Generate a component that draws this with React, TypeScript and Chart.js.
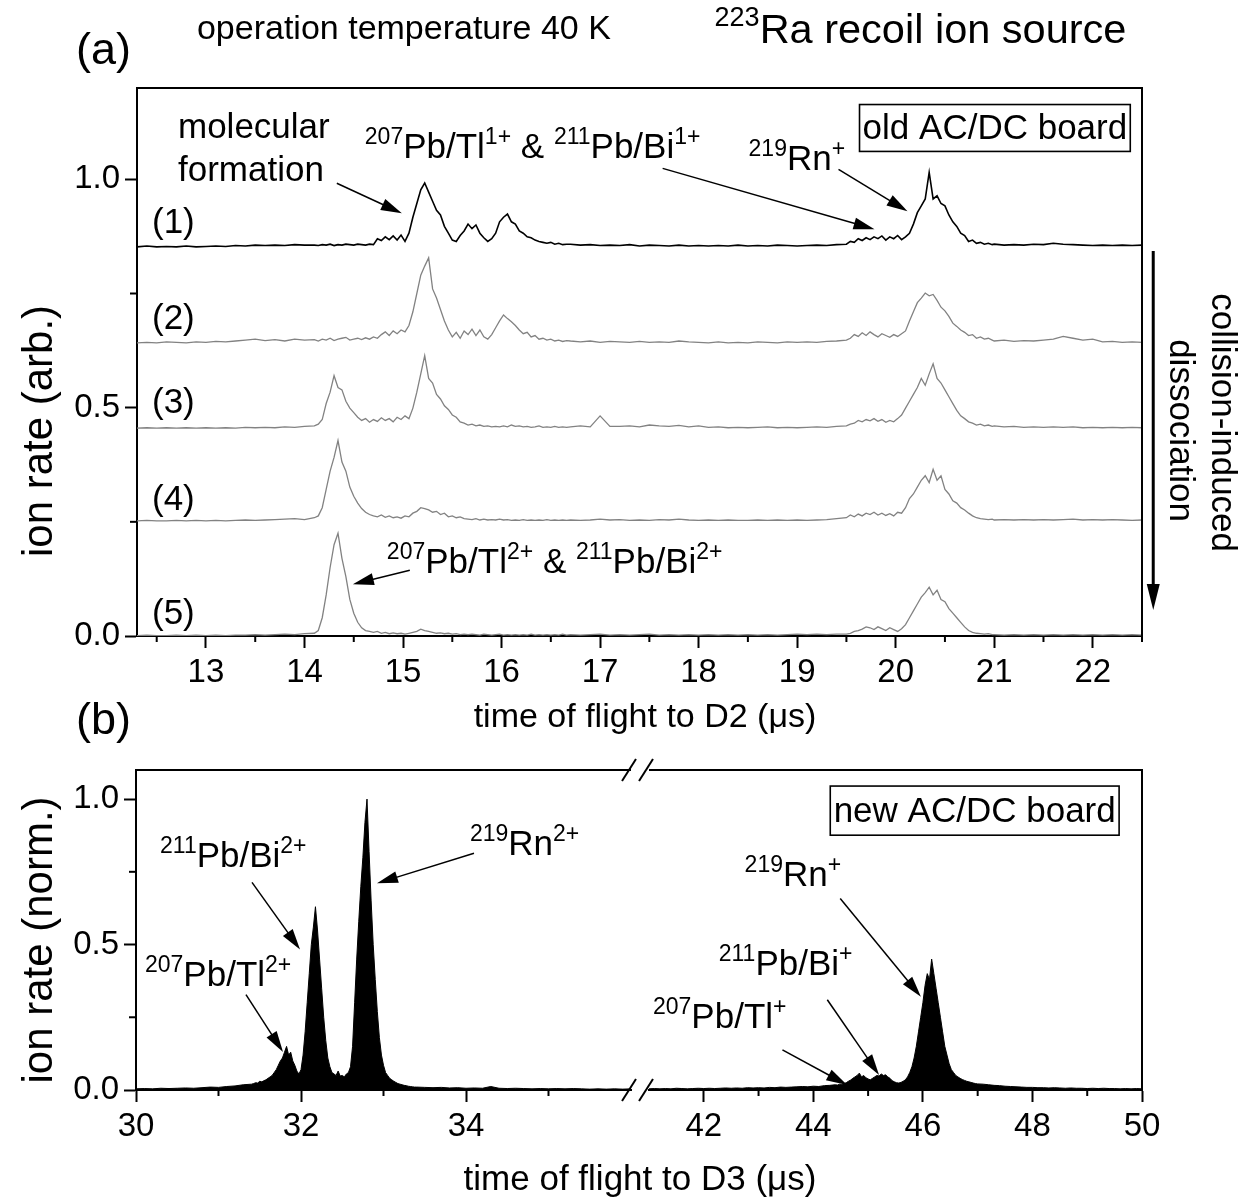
import React, { useEffect, useRef } from "react";
import { Chart, registerables } from "chart.js";
Chart.register(...registerables);

const FONT = '"Liberation Sans", Arial, Helvetica, sans-serif';

// ---------------- panel (a): time of flight to D2 (µs) ----------------
const tofD2 = [
  12.3, 12.4, 12.5, 12.6, 12.7, 12.8, 12.9, 13.0, 13.1, 13.2, 13.3, 13.4, 13.5, 13.6, 13.7, 13.8, 13.9, 14.0,
  14.10, 14.14, 14.18, 14.22, 14.26, 14.30, 14.34, 14.38, 14.42, 14.46,
  14.50, 14.54, 14.58, 14.62, 14.66, 14.70, 14.74, 14.78, 14.82, 14.86,
  14.90, 14.94, 14.98, 15.02, 15.06, 15.10, 15.14, 15.18, 15.22, 15.26,
  15.30, 15.34, 15.38, 15.42, 15.46, 15.50, 15.54, 15.58, 15.62, 15.66,
  15.70, 15.74, 15.78, 15.82, 15.86, 15.90, 15.94, 15.98, 16.02, 16.06,
  16.10, 16.14, 16.18, 16.22, 16.26, 16.30, 16.34, 16.38, 16.42, 16.46,
  16.50, 16.54, 16.58, 16.62, 16.66,
  16.7, 16.8, 16.9, 17.0, 17.1, 17.2, 17.3, 17.4, 17.5, 17.6,
  17.7, 17.8, 17.9, 18.0, 18.1, 18.2, 18.3, 18.4, 18.5, 18.6,
  18.7, 18.8, 18.9, 19.0, 19.1, 19.2, 19.3, 19.4,
  19.50, 19.54, 19.58, 19.62, 19.66, 19.70, 19.74, 19.78, 19.82, 19.86,
  19.90, 19.94, 19.98, 20.02, 20.06, 20.10, 20.14, 20.18, 20.22, 20.26,
  20.30, 20.34, 20.38, 20.42, 20.46, 20.50, 20.54, 20.58, 20.62, 20.66,
  20.70, 20.74, 20.78, 20.82, 20.86, 20.90, 20.94, 20.98,
  21.0, 21.1, 21.2, 21.3, 21.4, 21.5, 21.6, 21.7, 21.8, 21.9, 22.0, 22.1, 22.2, 22.3, 22.4, 22.5,
];

// spectrum (1), old AC/DC board (values above its own baseline)
const rate1 = [
  0.000, 0.002, 0.000, 0.001, 0.000, 0.002, 0.000, 0.001, 0.002, 0.001, 0.003, 0.002, 0.004, 0.003, 0.004, 0.003, 0.005, 0.004,
  0.004, 0.003, 0.005, 0.004, 0.006, 0.003, 0.005, 0.004, 0.006, 0.005,
  0.004, 0.006, 0.005, 0.004, 0.006, 0.005, 0.018, 0.014, 0.022, 0.016,
  0.024, 0.015, 0.026, 0.012, 0.030, 0.065, 0.095, 0.125, 0.140, 0.120,
  0.100, 0.080, 0.070, 0.045, 0.030, 0.015, 0.012, 0.025, 0.035, 0.050,
  0.040, 0.048, 0.030, 0.020, 0.012, 0.018, 0.030, 0.055, 0.065, 0.072,
  0.055, 0.050, 0.035, 0.030, 0.022, 0.020, 0.015, 0.012, 0.010, 0.008,
  0.010, 0.006, 0.008, 0.005, 0.006,
  0.006, 0.004, 0.005, 0.003, 0.004, 0.003, 0.005, 0.002, 0.004, 0.003,
  0.002, 0.004, 0.002, 0.003, 0.002, 0.003, 0.002, 0.004, 0.002, 0.003,
  0.002, 0.004, 0.003, 0.002, 0.003, 0.004, 0.003, 0.005,
  0.006, 0.012, 0.010, 0.018, 0.014, 0.020, 0.016, 0.022, 0.018, 0.024,
  0.015, 0.022, 0.018, 0.025, 0.016, 0.022, 0.030, 0.050, 0.075, 0.090,
  0.105, 0.163, 0.105, 0.112, 0.095, 0.090, 0.070, 0.055, 0.045, 0.030,
  0.025, 0.012, 0.015, 0.008, 0.010, 0.006, 0.008, 0.005,
  0.006, 0.004, 0.005, 0.004, 0.006, 0.005, 0.008, 0.006, 0.005, 0.004, 0.003, 0.004, 0.003, 0.004, 0.003, 0.004,
];

const rate2 = [
  0.002, 0.003, 0.002, 0.004, 0.003, 0.002, 0.004, 0.003, 0.005, 0.004, 0.006, 0.008, 0.010, 0.007, 0.009, 0.006, 0.010, 0.008,
  0.009, 0.006, 0.010, 0.008, 0.012, 0.007, 0.010, 0.012, 0.014, 0.008,
  0.010, 0.012, 0.009, 0.013, 0.010, 0.015, 0.012, 0.020, 0.026, 0.018,
  0.028, 0.022, 0.030, 0.026, 0.040, 0.070, 0.110, 0.150, 0.170, 0.188,
  0.120, 0.100, 0.075, 0.050, 0.030, 0.015, 0.025, 0.012, 0.028, 0.020,
  0.032, 0.018, 0.030, 0.015, 0.010, 0.020, 0.035, 0.050, 0.063, 0.055,
  0.048, 0.040, 0.030, 0.022, 0.025, 0.015, 0.018, 0.010, 0.012, 0.008,
  0.010, 0.006, 0.008, 0.005, 0.007,
  0.006, 0.004, 0.006, 0.003, 0.005, 0.004, 0.003, 0.005, 0.003, 0.004,
  0.003, 0.006, 0.004, 0.003, 0.002, 0.004, 0.002, 0.003, 0.002, 0.004,
  0.003, 0.002, 0.004, 0.003, 0.004, 0.003, 0.005, 0.006,
  0.008, 0.012, 0.020, 0.016, 0.024, 0.018, 0.026, 0.020, 0.015, 0.022,
  0.018, 0.014, 0.020, 0.016, 0.022, 0.028, 0.050, 0.070, 0.090, 0.100,
  0.111, 0.105, 0.108, 0.095, 0.080, 0.072, 0.060, 0.045, 0.038, 0.030,
  0.025, 0.018, 0.020, 0.012, 0.015, 0.010, 0.012, 0.008,
  0.006, 0.008, 0.005, 0.007, 0.006, 0.008, 0.010, 0.016, 0.012, 0.008, 0.010, 0.004, 0.005, 0.003, 0.004, 0.003,
];

const rate3 = [
  0.001, 0.002, 0.001, 0.002, 0.001, 0.002, 0.001, 0.002, 0.001, 0.002, 0.001, 0.003, 0.002, 0.003, 0.002, 0.004, 0.003, 0.005,
  0.006, 0.010, 0.020, 0.055, 0.080, 0.116, 0.090, 0.085, 0.060, 0.045,
  0.035, 0.025, 0.018, 0.022, 0.014, 0.020, 0.016, 0.024, 0.018, 0.022,
  0.015, 0.025, 0.020, 0.028, 0.022, 0.045, 0.080, 0.120, 0.160, 0.110,
  0.100, 0.075, 0.065, 0.050, 0.042, 0.030, 0.025, 0.015, 0.012, 0.008,
  0.010, 0.006, 0.008, 0.005, 0.006, 0.004, 0.005, 0.004, 0.006, 0.004,
  0.008, 0.005, 0.006, 0.004, 0.005, 0.003, 0.004, 0.006, 0.003, 0.004,
  0.003, 0.005, 0.003, 0.004, 0.003,
  0.004, 0.006, 0.004, 0.028, 0.005, 0.005, 0.006, 0.004, 0.008, 0.006,
  0.005, 0.007, 0.004, 0.006, 0.003, 0.004, 0.002, 0.003, 0.002, 0.003,
  0.004, 0.002, 0.003, 0.002, 0.003, 0.004, 0.003, 0.005,
  0.006, 0.010, 0.012, 0.018, 0.015, 0.020, 0.017, 0.022, 0.016, 0.020,
  0.014, 0.018, 0.015, 0.022, 0.030, 0.045, 0.060, 0.075, 0.090, 0.110,
  0.095, 0.120, 0.142, 0.110, 0.100, 0.085, 0.070, 0.055, 0.040, 0.028,
  0.022, 0.015, 0.012, 0.008, 0.010, 0.006, 0.008, 0.005,
  0.006, 0.004, 0.005, 0.003, 0.004, 0.003, 0.004, 0.003, 0.004, 0.002, 0.003, 0.002, 0.003, 0.002, 0.003, 0.002,
];

const rate4 = [
  0.001, 0.002, 0.001, 0.001, 0.002, 0.001, 0.002, 0.001, 0.002, 0.001, 0.002, 0.003, 0.002, 0.003, 0.004, 0.005, 0.006, 0.004,
  0.008, 0.012, 0.030, 0.070, 0.110, 0.140, 0.177, 0.130, 0.110, 0.075,
  0.055, 0.040, 0.028, 0.020, 0.015, 0.012, 0.010, 0.014, 0.009, 0.012,
  0.008, 0.010, 0.007, 0.012, 0.010, 0.018, 0.022, 0.030, 0.028, 0.025,
  0.020, 0.022, 0.015, 0.018, 0.010, 0.012, 0.008, 0.010, 0.006, 0.005,
  0.004, 0.006, 0.003, 0.005, 0.003, 0.004, 0.003, 0.005, 0.003, 0.004,
  0.002, 0.003, 0.002, 0.004, 0.002, 0.003, 0.002, 0.003, 0.002, 0.004,
  0.002, 0.003, 0.002, 0.003, 0.002,
  0.003, 0.002, 0.003, 0.005, 0.003, 0.004, 0.002, 0.003, 0.002, 0.004,
  0.003, 0.005, 0.003, 0.002, 0.003, 0.002, 0.003, 0.002, 0.002, 0.003,
  0.002, 0.003, 0.002, 0.003, 0.002, 0.003, 0.004, 0.006,
  0.008, 0.014, 0.010, 0.016, 0.012, 0.018, 0.015, 0.020, 0.014, 0.018,
  0.013, 0.017, 0.012, 0.020, 0.018, 0.030, 0.050, 0.060, 0.075, 0.090,
  0.100, 0.085, 0.114, 0.090, 0.100, 0.070, 0.060, 0.045, 0.040, 0.030,
  0.025, 0.018, 0.012, 0.008, 0.006, 0.005, 0.004, 0.005,
  0.003, 0.004, 0.003, 0.004, 0.003, 0.004, 0.003, 0.004, 0.005, 0.003, 0.004, 0.003, 0.004, 0.003, 0.002, 0.003,
];

const rate5 = [
  0.001, 0.002, 0.001, 0.001, 0.002, 0.001, 0.002, 0.001, 0.002, 0.001, 0.002, 0.002, 0.003, 0.002, 0.003, 0.004, 0.003, 0.005,
  0.006, 0.012, 0.040, 0.090, 0.150, 0.200, 0.225, 0.170, 0.130, 0.080,
  0.050, 0.030, 0.018, 0.012, 0.010, 0.008, 0.010, 0.006, 0.008, 0.005,
  0.007, 0.005, 0.006, 0.004, 0.006, 0.008, 0.010, 0.015, 0.012, 0.010,
  0.008, 0.006, 0.007, 0.005, 0.006, 0.004, 0.005, 0.003, 0.004, 0.003,
  0.004, 0.003, 0.002, 0.004, 0.003, 0.002, 0.003, 0.004, 0.002, 0.003,
  0.002, 0.003, 0.002, 0.003, 0.002, 0.004, 0.002, 0.003, 0.002, 0.003,
  0.002, 0.003, 0.002, 0.004, 0.002,
  0.003, 0.002, 0.003, 0.004, 0.002, 0.003, 0.002, 0.003, 0.004, 0.002,
  0.003, 0.002, 0.003, 0.002, 0.003, 0.002, 0.003, 0.002, 0.003, 0.002,
  0.003, 0.002, 0.003, 0.004, 0.003, 0.004, 0.003, 0.004,
  0.004, 0.006, 0.010, 0.012, 0.015, 0.020, 0.018, 0.014, 0.020, 0.016,
  0.012, 0.018, 0.014, 0.010, 0.016, 0.025, 0.040, 0.055, 0.070, 0.085,
  0.095, 0.107, 0.090, 0.100, 0.080, 0.075, 0.060, 0.050, 0.040, 0.030,
  0.020, 0.012, 0.008, 0.006, 0.005, 0.004, 0.005, 0.003,
  0.003, 0.002, 0.003, 0.002, 0.003, 0.002, 0.003, 0.002, 0.003, 0.002, 0.003, 0.002, 0.003, 0.002, 0.003, 0.002,
];

const spectraD2 = [rate1, rate2, rate3, rate4, rate5];
const traceOffsets = [0.852, 0.64, 0.454, 0.251, 0.0];
const traceLabels = ["(1)", "(2)", "(3)", "(4)", "(5)"];
const traceColors = ["#000000", "#828282", "#828282", "#828282", "#828282"];

const xTicksD2 = [13, 14, 15, 16, 17, 18, 19, 20, 21, 22];
const xMinorD2 = [12.5, 13.5, 14.5, 15.5, 16.5, 17.5, 18.5, 19.5, 20.5, 21.5, 22.5];
const yTicksA = [0, 0.5, 1.0];
const yMinorA = [0.25, 0.75];

// ---------------- panel (b): time of flight to D3 (µs), broken axis ----------------
const tofD3Left = [
  30.0, 30.1, 30.2, 30.3, 30.4, 30.5, 30.6, 30.7, 30.8, 30.9, 31.0, 31.1, 31.2, 31.3,
  31.400, 31.425, 31.450, 31.475, 31.500, 31.525, 31.550, 31.575, 31.600, 31.625,
  31.650, 31.675, 31.700, 31.725, 31.750, 31.775, 31.800, 31.825, 31.850, 31.875,
  31.900, 31.925, 31.950, 31.975, 32.000, 32.025, 32.050, 32.075, 32.100, 32.125,
  32.150, 32.175, 32.200, 32.225, 32.250, 32.275, 32.300, 32.325, 32.350, 32.375,
  32.400, 32.425, 32.450, 32.475, 32.500, 32.525, 32.550, 32.575, 32.600, 32.625,
  32.650, 32.675, 32.700, 32.725, 32.750, 32.775, 32.800, 32.825, 32.850, 32.875,
  32.900, 32.925, 32.950, 32.975, 33.000, 33.025, 33.050, 33.075, 33.100, 33.125,
  33.150, 33.175, 33.200, 33.225, 33.250, 33.275, 33.300, 33.325, 33.350, 33.375,
  33.4, 33.5, 33.6, 33.7, 33.8, 33.9, 34.0, 34.1, 34.2, 34.3, 34.4, 34.5, 34.6, 34.7,
  34.8, 34.9, 35.0, 35.1, 35.2, 35.3, 35.4, 35.5, 35.6, 35.7, 35.8, 35.9, 36.0,
];
const rateD3Left = [
  0.004, 0.005, 0.004, 0.006, 0.005, 0.006, 0.007, 0.006, 0.008, 0.010, 0.009, 0.012, 0.014, 0.018,
  0.020, 0.022, 0.025, 0.024, 0.030, 0.028, 0.032, 0.035, 0.040, 0.045,
  0.050, 0.060, 0.070, 0.085, 0.100, 0.110, 0.130, 0.150, 0.120, 0.130,
  0.100, 0.085, 0.065, 0.055, 0.070, 0.120, 0.200, 0.300, 0.400, 0.500,
  0.560, 0.630, 0.550, 0.450, 0.350, 0.250, 0.170, 0.110, 0.080, 0.060,
  0.055, 0.050, 0.065, 0.048, 0.050, 0.045, 0.055, 0.060, 0.080, 0.150,
  0.300, 0.450, 0.580, 0.700, 0.800, 0.920, 1.000, 0.820, 0.650, 0.500,
  0.380, 0.270, 0.180, 0.120, 0.085, 0.060, 0.050, 0.040, 0.035, 0.030,
  0.026, 0.022, 0.020, 0.018, 0.016, 0.015, 0.013, 0.012, 0.011, 0.010,
  0.010, 0.009, 0.008, 0.009, 0.007, 0.008, 0.006, 0.007, 0.006, 0.012, 0.006, 0.005, 0.006, 0.005,
  0.004, 0.005, 0.004, 0.005, 0.004, 0.005, 0.004, 0.003, 0.004, 0.003, 0.004, 0.003, 0.004,
];

const tofD3Right = [
  41.0, 41.1, 41.2, 41.3, 41.4, 41.5, 41.6, 41.7, 41.8, 41.9,
  42.0, 42.1, 42.2, 42.3, 42.4, 42.5, 42.6, 42.7, 42.8, 42.9,
  43.0, 43.1, 43.2, 43.3, 43.4, 43.5, 43.6, 43.7, 43.8, 43.9,
  44.0, 44.1, 44.2, 44.3,
  44.40, 44.44, 44.48, 44.52, 44.56, 44.60, 44.64, 44.68, 44.72, 44.76,
  44.80, 44.84, 44.88, 44.92, 44.96, 45.00, 45.04, 45.08, 45.12, 45.16,
  45.20, 45.24, 45.28, 45.32, 45.36, 45.40, 45.44, 45.48, 45.52, 45.56,
  45.60, 45.64, 45.68, 45.72, 45.76, 45.80, 45.84, 45.88, 45.92, 45.96,
  46.00, 46.04, 46.08, 46.12, 46.16, 46.20, 46.24, 46.28, 46.32, 46.36,
  46.40, 46.44, 46.48, 46.52, 46.56, 46.60, 46.64, 46.68, 46.72, 46.76,
  46.80, 46.84, 46.88, 46.92, 46.96,
  47.0, 47.1, 47.2, 47.3, 47.4, 47.5, 47.6, 47.7, 47.8, 47.9,
  48.0, 48.1, 48.2, 48.3, 48.4, 48.5, 48.6, 48.7, 48.8, 48.9,
  49.0, 49.1, 49.2, 49.3, 49.4, 49.5, 49.6, 49.7, 49.8, 49.9, 50.0,
];
const rateD3Right = [
  0.004, 0.005, 0.004, 0.005, 0.004, 0.006, 0.005, 0.004, 0.005, 0.006,
  0.005, 0.006, 0.005, 0.006, 0.007, 0.006, 0.007, 0.006, 0.008, 0.007,
  0.008, 0.007, 0.009, 0.008, 0.010, 0.009, 0.010, 0.011, 0.012, 0.011,
  0.013, 0.012, 0.015, 0.016,
  0.018, 0.017, 0.020, 0.019, 0.022, 0.025, 0.030, 0.034, 0.040, 0.045,
  0.050, 0.058, 0.045, 0.050, 0.042, 0.038, 0.035, 0.040, 0.045, 0.050,
  0.048, 0.055, 0.050, 0.052, 0.045, 0.040, 0.032, 0.028, 0.025, 0.024,
  0.026, 0.030, 0.035, 0.045, 0.060, 0.080, 0.110, 0.150, 0.200, 0.250,
  0.300, 0.360, 0.400, 0.380, 0.450, 0.400, 0.350, 0.300, 0.250, 0.200,
  0.150, 0.120, 0.090, 0.070, 0.060, 0.050, 0.045, 0.040, 0.036, 0.033,
  0.030, 0.028, 0.026, 0.024, 0.022,
  0.021, 0.020, 0.018, 0.016, 0.015, 0.013, 0.012, 0.011, 0.010, 0.009,
  0.009, 0.008, 0.008, 0.007, 0.008, 0.007, 0.006, 0.007, 0.006, 0.006,
  0.005, 0.006, 0.005, 0.006, 0.005, 0.005, 0.004, 0.005, 0.004, 0.005, 0.004,
];

const xTicksD3Left = [30, 32, 34];
const xMinorD3Left = [31, 33, 35];
const xTicksD3Right = [42, 44, 46, 48, 50];
const xMinorD3Right = [43, 45, 47, 49];
const yTicksB = [0, 0.5, 1.0];
const yMinorB = [0.25, 0.75];

// ---------------- annotations (in data coordinates of each panel) ----------------
type Part = [string, number]; // [text, 1 = superscript]
type Label = { parts: Part[]; x: number; y: number; size?: number };
type Arrow = [number, number, number, number];

const labelsA: Label[] = [
  { parts: [["molecular", 0]], x: 12.716, y: 1.0895 },
  { parts: [["formation", 0]], x: 12.716, y: 0.9956 },
  { parts: [["207", 1], ["Pb/Tl", 0], ["1+", 1], [" & ", 0], ["211", 1], ["Pb/Bi", 0], ["1+", 1]], x: 14.612, y: 1.0459 },
  { parts: [["219", 1], ["Rn", 0], ["+", 1]], x: 18.507, y: 1.0197 },
  { parts: [["207", 1], ["Pb/Tl", 0], ["2+", 1], [" & ", 0], ["211", 1], ["Pb/Bi", 0], ["2+", 1]], x: 14.836, y: 0.1376 },
  { parts: [["(a)", 0]], x: 11.681, y: 1.2533, size: 45 },
  { parts: [["operation temperature 40 K", 0]], x: 12.9085, y: 1.3079, size: 34 },
  { parts: [["223", 1], ["Ra recoil ion source", 0]], x: 18.162, y: 1.299, size: 41.5 },
];
const traceLabelX = 12.452;
const traceLabelY = [0.882, 0.6725, 0.489, 0.275, 0.026];
const arrowsA: Arrow[] = [
  [14.328, 0.9913, 14.988, 0.9258],
  [17.635, 1.024, 19.785, 0.8908],
  [19.42, 1.0218, 20.12, 0.9301],
  [15.069, 0.1441, 14.491, 0.1135],
];
const boxA = { text: "old AC/DC board", x1: 19.633, x2: 22.381, y1: 1.1638, y2: 1.0611, base: 1.0873 };
const cidArrow = { x: 22.614, y1: 0.8428, y2: 0.0568 };
const cidText = [
  { text: "collision-induced", x: 23.304, y: 0.4672 },
  { text: "dissociation", x: 22.878, y: 0.4498 },
];

const labelsBL: Label[] = [
  { parts: [["211", 1], ["Pb/Bi", 0], ["2+", 1]], x: 30.291, y: 0.7655 },
  { parts: [["207", 1], ["Pb/Tl", 0], ["2+", 1]], x: 30.109, y: 0.3586 },
  { parts: [["219", 1], ["Rn", 0], ["2+", 1]], x: 34.048, y: 0.8069 },
  { parts: [["(b)", 0]], x: 29.273, y: 1.2241, size: 45 },
];
const arrowsBL: Arrow[] = [
  [31.406, 0.7138, 31.988, 0.4828],
  [31.333, 0.3276, 31.782, 0.131],
  [34.097, 0.8138, 32.921, 0.7103],
];
const labelsBR: Label[] = [
  { parts: [["219", 1], ["Rn", 0], ["+", 1]], x: 42.745, y: 0.70 },
  { parts: [["211", 1], ["Pb/Bi", 0], ["+", 1]], x: 42.273, y: 0.3966 },
  { parts: [["207", 1], ["Pb/Tl", 0], ["+", 1]], x: 41.073, y: 0.2138 },
];
const arrowsBR: Arrow[] = [
  [44.491, 0.6586, 45.964, 0.3207],
  [44.255, 0.3103, 45.2, 0.0517],
  [43.436, 0.1379, 44.618, 0.0172],
];
const boxB = { text: "new AC/DC board", x1: 44.309, x2: 49.582, y1: 1.0448, y2: 0.8759, base: 0.9207 };

// ---------------- drawing helpers ----------------
const ANN = 35;
const TICK_FONT = 33;

function richText(ctx: CanvasRenderingContext2D, parts: Part[], x: number, y: number, size: number, align = "left") {
  ctx.fillStyle = "#000";
  ctx.textAlign = "left";
  ctx.textBaseline = "alphabetic";
  const sz = parts.map(([, s]) => (s ? Math.round(size * 0.65) : size));
  let w = 0;
  parts.forEach(([t], i) => {
    ctx.font = `${sz[i]}px ${FONT}`;
    w += ctx.measureText(t).width;
  });
  let cx = align === "center" ? x - w / 2 : x;
  parts.forEach(([t, s], i) => {
    ctx.font = `${sz[i]}px ${FONT}`;
    ctx.fillText(t, cx, s ? y - size * 0.4 : y);
    cx += ctx.measureText(t).width;
  });
}

function arrow(ctx: CanvasRenderingContext2D, x1: number, y1: number, x2: number, y2: number, len = 21, half = 6, lw = 1.5) {
  const a = Math.atan2(y2 - y1, x2 - x1);
  const c = Math.cos(a), s = Math.sin(a);
  ctx.strokeStyle = "#000";
  ctx.fillStyle = "#000";
  ctx.lineWidth = lw;
  ctx.beginPath();
  ctx.moveTo(x1, y1);
  ctx.lineTo(x2 - len * 0.8 * c, y2 - len * 0.8 * s);
  ctx.stroke();
  ctx.beginPath();
  ctx.moveTo(x2, y2);
  ctx.lineTo(x2 - len * c + half * s, y2 - len * s - half * c);
  ctx.lineTo(x2 - len * c - half * s, y2 - len * s + half * c);
  ctx.closePath();
  ctx.fill();
}

function line(ctx: CanvasRenderingContext2D, x1: number, y1: number, x2: number, y2: number, lw = 2) {
  ctx.strokeStyle = "#000";
  ctx.lineWidth = lw;
  ctx.beginPath();
  ctx.moveTo(x1, y1);
  ctx.lineTo(x2, y2);
  ctx.stroke();
}

function rotText(ctx: CanvasRenderingContext2D, text: string, x: number, y: number, size: number, angle: number) {
  ctx.save();
  ctx.translate(x, y);
  ctx.rotate(angle);
  ctx.font = `${size}px ${FONT}`;
  ctx.fillStyle = "#000";
  ctx.textAlign = "center";
  ctx.textBaseline = "middle";
  ctx.fillText(text, 0, 0);
  ctx.restore();
}

function minorTicks(chart: any, ctx: CanvasRenderingContext2D, xs: number[], ys: number[]) {
  const { x, y } = chart.scales;
  const { left, bottom } = chart.chartArea;
  xs.forEach((v) => {
    const p = x.getPixelForValue(v);
    line(ctx, p, bottom, p, bottom + 6, 2);
  });
  if (y.options.display) {
    ys.forEach((v) => {
      const p = y.getPixelForValue(v);
      line(ctx, left, p, left - 7, p, 2);
    });
  }
}

function drawLabels(chart: any, ctx: CanvasRenderingContext2D, labels: Label[], arrows: Arrow[]) {
  const X = (v: number) => chart.scales.x.getPixelForValue(v);
  const Y = (v: number) => chart.scales.y.getPixelForValue(v);
  labels.forEach((l) => richText(ctx, l.parts, X(l.x), Y(l.y), l.size || ANN));
  arrows.forEach(([a, b, c, d]) => arrow(ctx, X(a), Y(b), X(c), Y(d)));
}

function drawBox(chart: any, ctx: CanvasRenderingContext2D, box: any) {
  const X = (v: number) => chart.scales.x.getPixelForValue(v);
  const Y = (v: number) => chart.scales.y.getPixelForValue(v);
  ctx.strokeStyle = "#000";
  ctx.lineWidth = 1.6;
  ctx.strokeRect(X(box.x1), Y(box.y1), X(box.x2) - X(box.x1), Y(box.y2) - Y(box.y1));
  richText(ctx, [[box.text, 0]], (X(box.x1) + X(box.x2)) / 2, Y(box.base), ANN, "center");
}

// ---------------- scale builders ----------------
function xScale(min: number, max: number, ticks: number[], height: number) {
  return {
    type: "linear",
    min,
    max,
    afterBuildTicks: (s: any) => {
      s.ticks = ticks.map((v) => ({ value: v }));
    },
    afterFit: (s: any) => {
      s.height = height;
    },
    ticks: {
      autoSkip: false,
      maxRotation: 0,
      minRotation: 0,
      padding: 5,
      color: "#000",
      font: { size: TICK_FONT, family: FONT },
      callback: (v: any) => String(v),
    },
    grid: { drawOnChartArea: false, drawTicks: true, tickLength: 12, tickWidth: 2, tickColor: "#000", color: "#000" },
    border: { display: true, color: "#000", width: 2 },
  };
}

function yScale(max: number, ticks: number[], width: number, display = true) {
  return {
    type: "linear",
    display,
    min: 0,
    max,
    afterBuildTicks: (s: any) => {
      s.ticks = ticks.map((v) => ({ value: v }));
    },
    afterFit: (s: any) => {
      s.width = width;
    },
    ticks: {
      autoSkip: false,
      padding: 5,
      color: "#000",
      font: { size: TICK_FONT, family: FONT },
      callback: (v: any) => Number(v).toFixed(1),
    },
    grid: { drawOnChartArea: false, drawTicks: true, tickLength: 12, tickWidth: 2, tickColor: "#000", color: "#000" },
    border: { display: true, color: "#000", width: 2 },
  };
}

const baseOptions = (padding: any, scales: any) => ({
  responsive: false,
  animation: false,
  devicePixelRatio: 1,
  events: [],
  layout: { padding },
  plugins: { legend: { display: false }, tooltip: { enabled: false }, title: { display: false } },
  elements: { point: { radius: 0 }, line: { tension: 0 } },
  scales,
});

// ---------------- chart configs ----------------
function configA() {
  const datasets = spectraD2.map((ys, k) => ({
    label: traceLabels[k],
    data: tofD2.map((x, i) => ({ x, y: ys[i] + traceOffsets[k] })),
    borderColor: traceColors[k],
    borderWidth: k === 0 ? 1.6 : 1.3,
    pointRadius: 0,
    fill: false,
  }));
  return {
    type: "line",
    data: { datasets: datasets.reverse() },
    options: baseOptions(
      { left: 0, right: 110, top: 88, bottom: 457 },
      { x: xScale(12.3, 22.5, xTicksD2, 109), y: yScale(1.2, yTicksA, 137) }
    ),
    plugins: [
      {
        id: "decorA",
        afterDraw(chart: any) {
          const ctx = chart.ctx as CanvasRenderingContext2D;
          const { left, right, top, bottom } = chart.chartArea;
          ctx.save();
          line(ctx, left - 1, top, right + 1, top, 2);
          line(ctx, right, top, right, bottom, 2);
          minorTicks(chart, ctx, xMinorD2, yMinorA);
          const X = (v: number) => chart.scales.x.getPixelForValue(v);
          const Y = (v: number) => chart.scales.y.getPixelForValue(v);
          traceLabels.forEach((t, k) => richText(ctx, [[t, 0]], X(traceLabelX), Y(traceLabelY[k]), ANN));
          drawLabels(chart, ctx, labelsA, arrowsA);
          drawBox(chart, ctx, boxA);
          arrow(ctx, X(cidArrow.x), Y(cidArrow.y1), X(cidArrow.x), Y(cidArrow.y2), 26, 6.5, 3);
          cidText.forEach((c) => rotText(ctx, c.text, X(c.x), Y(c.y), 35, Math.PI / 2));
          rotText(ctx, "ion rate (arb.)", 40, 431, 42, -Math.PI / 2);
          rotText(ctx, "time of flight to D2 (\u03bcs)", 645, 718, 34, 0);
          ctx.restore();
        },
      },
    ],
  };
}

function configBL() {
  return {
    type: "line",
    data: {
      datasets: [
        {
          label: "D3 left",
          data: tofD3Left.map((x, i) => ({ x, y: rateD3Left[i] })),
          borderColor: "#000",
          backgroundColor: "#000",
          borderWidth: 1,
          pointRadius: 0,
          fill: "origin",
        },
      ],
    },
    options: baseOptions(
      { left: 0, right: 621, top: 770, bottom: 0 },
      { x: xScale(30, 36, xTicksD3Left, 112), y: yScale(1.1, yTicksB, 136) }
    ),
    plugins: [
      {
        id: "decorBL",
        afterDraw(chart: any) {
          const ctx = chart.ctx as CanvasRenderingContext2D;
          const { left, right, top, bottom } = chart.chartArea;
          ctx.save();
          line(ctx, left - 1, top, right, top, 2);
          minorTicks(chart, ctx, xMinorD3Left, yMinorB);
          [top, bottom].forEach((yy) => {
            [right - 2, right + 15].forEach((cx) => line(ctx, cx - 7, yy + 11, cx + 7, yy - 11, 2));
          });
          drawLabels(chart, ctx, labelsBL, arrowsBL);
          rotText(ctx, "ion rate (norm.)", 40, 940, 42, -Math.PI / 2);
          rotText(ctx, "time of flight to D3 (\u03bcs)", 640, 1180, 35, 0);
          ctx.restore();
        },
      },
    ],
  };
}

function configBR() {
  return {
    type: "line",
    data: {
      datasets: [
        {
          label: "D3 right",
          data: tofD3Right.map((x, i) => ({ x, y: rateD3Right[i] })),
          borderColor: "#000",
          backgroundColor: "#000",
          borderWidth: 1,
          pointRadius: 0,
          fill: "origin",
        },
      ],
    },
    options: baseOptions(
      { left: 649, right: 110, top: 770, bottom: 0 },
      { x: xScale(41, 50, xTicksD3Right, 112), y: yScale(1.1, yTicksB, 0, false) }
    ),
    plugins: [
      {
        id: "decorBR",
        afterDraw(chart: any) {
          const ctx = chart.ctx as CanvasRenderingContext2D;
          const { left, right, top, bottom } = chart.chartArea;
          ctx.save();
          line(ctx, left, top, right + 1, top, 2);
          line(ctx, right, top, right, bottom, 2);
          minorTicks(chart, ctx, xMinorD3Right, []);
          drawLabels(chart, ctx, labelsBR, arrowsBR);
          drawBox(chart, ctx, boxB);
          ctx.restore();
        },
      },
    ],
  };
}

function ChartLayer({ make }: { make: () => any }) {
  const ref = useRef<HTMLCanvasElement>(null);
  useEffect(() => {
    const chart = new Chart(ref.current as HTMLCanvasElement, make());
    return () => chart.destroy();
  }, [make]);
  return (
    <canvas
      ref={ref}
      width={1252}
      height={1202}
      style={{ position: "absolute", left: 0, top: 0, width: 1252, height: 1202 }}
    />
  );
}

export default function App() {
  return (
    <div style={{ position: "absolute", left: 0, top: 0, width: 1252, height: 1202, background: "#fff", overflow: "hidden" }}>
      <ChartLayer make={configA} />
      <ChartLayer make={configBL} />
      <ChartLayer make={configBR} />
    </div>
  );
}
